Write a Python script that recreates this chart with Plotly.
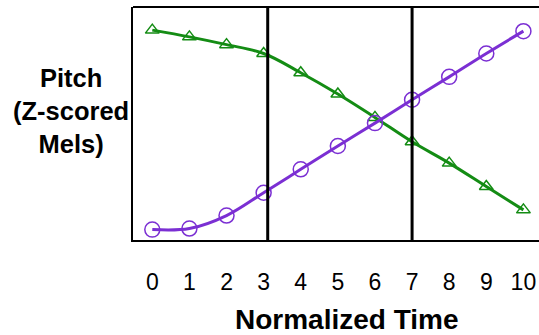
import plotly.graph_objects as go

time_points = [0, 1, 2, 3, 4, 5, 6, 7, 8, 9, 10]
tick_labels = [str(t) for t in time_points]
rising_pitch = [-1.91, -1.89, -1.64, -1.20, -0.75, -0.30, 0.14, 0.59, 1.03, 1.48, 1.91]
falling_pitch = [1.93, 1.80, 1.65, 1.48, 1.11, 0.70, 0.25, -0.22, -0.63, -1.08, -1.53]
boundaries = [3.11, 7.0]

PURPLE = "#7B2FD3"
GREEN = "#148C14"
FONT = "Liberation Sans, Arial, sans-serif"

fig = go.Figure()
fig.add_trace(go.Scatter(
    x=time_points, y=falling_pitch, mode="lines+markers",
    line=dict(color=GREEN, width=3, shape="spline"),
    marker=dict(symbol="triangle-up-open", size=12, color=GREEN, line=dict(width=1.5, color=GREEN)),
    showlegend=False))
fig.add_trace(go.Scatter(
    x=time_points, y=rising_pitch, mode="lines+markers",
    line=dict(color=PURPLE, width=3, shape="spline"),
    marker=dict(symbol="circle-open", size=15, color=PURPLE, line=dict(width=1.5, color=PURPLE)),
    showlegend=False))

for b in boundaries:
    fig.add_shape(type="line", xref="x", yref="paper", x0=b, x1=b, y0=0, y1=1,
                  line=dict(color="black", width=3))
# top frame line
fig.add_shape(type="line", xref="paper", yref="paper", x0=0, x1=1, y0=1, y1=1,
              line=dict(color="black", width=2))

fig.update_xaxes(range=[-0.52, 10.42], tickvals=time_points, ticktext=tick_labels,
                 showgrid=False, zeroline=False, showline=True, linecolor="black", linewidth=2,
                 ticks="", ticklabelstandoff=20,
                 tickfont=dict(family=FONT, size=23, color="black"))
fig.update_yaxes(range=[-2.11, 2.375], showticklabels=False, showgrid=False, zeroline=False,
                 showline=True, linecolor="black", linewidth=1.5, ticks="")

fig.add_annotation(text="<b>Normalized Time</b>", xref="paper", yref="paper",
                   x=(347 - 133) / 406, y=(240 - 319) / 233, showarrow=False,
                   xanchor="center", yanchor="middle",
                   font=dict(family=FONT, size=28, color="black"))
fig.add_annotation(text="<b>Pitch<br>(Z-scored<br>Mels)</b>", xref="paper", yref="paper",
                   x=(71 - 133) / 406, y=(240 - 111) / 233, showarrow=False,
                   xanchor="center", yanchor="middle", align="center",
                   font=dict(family=FONT, size=25.5, color="black"))

fig.update_layout(width=539, height=335, margin=dict(l=133, r=0, t=7, b=95),
                  plot_bgcolor="white", paper_bgcolor="white")
fig.write_html("out.html")
